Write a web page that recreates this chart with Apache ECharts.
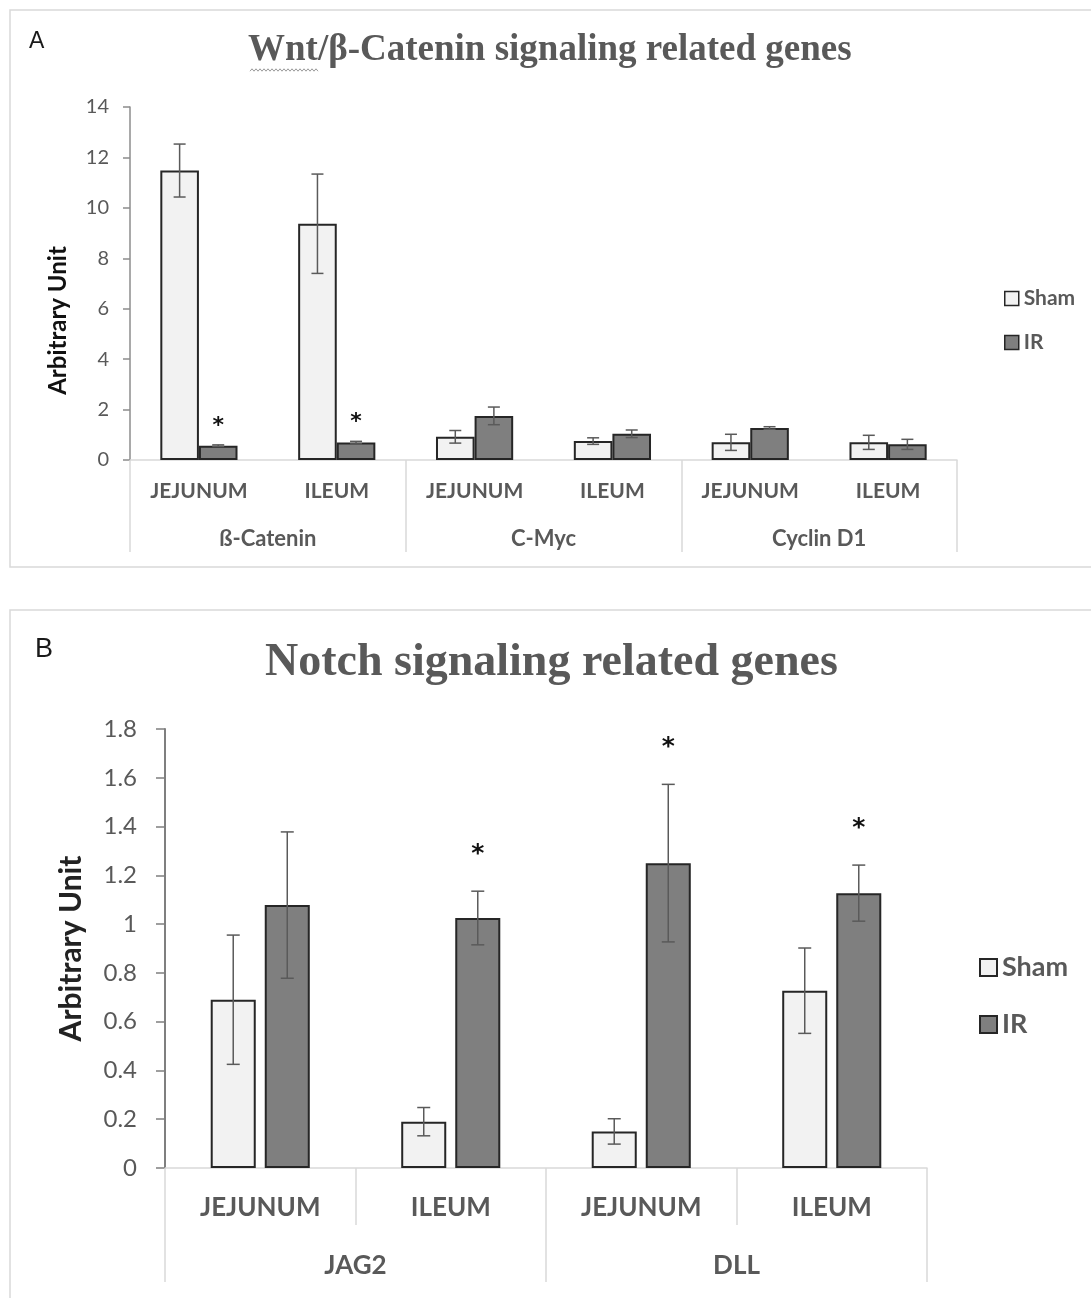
<!DOCTYPE html>
<html><head><meta charset="utf-8">
<script src="https://cdn.jsdelivr.net/npm/echarts@6/dist/echarts.min.js"></script>
<style>html,body{margin:0;padding:0;background:#fff}#c{width:1091px;height:1298px}</style>
</head><body><div id="c"></div>
<script>
// ---------- Panel A data ----------
const subA = ['JEJUNUM', 'ILEUM', 'JEJUNUM', 'ILEUM', 'JEJUNUM', 'ILEUM'];
const groupsA = ['ß-Catenin', 'C-Myc', 'Cyclin D1'];
const shamA = [11.48, 9.37, 0.92, 0.75, 0.70, 0.70];
const shamErrA = [1.05, 1.97, 0.25, 0.13, 0.32, 0.28];
const irA = [0.57, 0.69, 1.75, 1.04, 1.27, 0.62];
const irErrA = [0.03, 0.05, 0.35, 0.15, 0.05, 0.20];
const sigA = [1, 1, 0, 0, 0, 0];
// ---------- Panel B data ----------
const subB = ['JEJUNUM', 'ILEUM', 'JEJUNUM', 'ILEUM'];
const groupsB = ['JAG2', 'DLL'];
const shamB = [0.69, 0.19, 0.15, 0.727];
const shamErrB = [0.265, 0.058, 0.052, 0.175];
const irB = [1.078, 1.025, 1.25, 1.127];
const irErrB = [0.30, 0.11, 0.323, 0.115];
const sigB = [0, 1, 1, 1];
const seriesNames = ['Sham', 'IR'];
const titleA = 'Wnt/β-Catenin signaling related genes';
const titleB = 'Notch signaling related genes';
const yTitle = 'Arbitrary Unit';

const SANS = 'Lato, "Open Sans", sans-serif';
const GRAY = '#595959';
const LIGHT = '#d9d9d9';

function errRender(side, catGap, gap, capW, starGap, starSize) {
  return function (params, api) {
    const i = api.value(0), v = api.value(1), e = api.value(2), s = api.value(3);
    const band = api.size([1, 0])[0];
    const w = band * (1 - catGap) / (2 + gap);
    const off = side * w * (1 + gap) / 2;
    const top = api.coord([i, v + e]);
    const bot = api.coord([i, v - e]);
    const x = top[0] + off;
    const st = { stroke: '#5a5a5a', lineWidth: 1.5 };
    const children = [
      { type: 'line', shape: { x1: x, y1: top[1], x2: x, y2: bot[1] }, style: st },
      { type: 'line', shape: { x1: x - capW / 2, y1: top[1], x2: x + capW / 2, y2: top[1] }, style: st },
      { type: 'line', shape: { x1: x - capW / 2, y1: bot[1], x2: x + capW / 2, y2: bot[1] }, style: st }
    ];
    if (s) {
      children.push({ type: 'text', style: { text: '*', x: x, y: top[1] - starGap, align: 'center',
        verticalAlign: 'middle', fontSize: starSize, fontWeight: 'bold',
        fontFamily: '"DejaVu Sans", sans-serif', fill: '#111' } });
    }
    return { type: 'group', children: children };
  };
}
function errData(vals, errs, sig) {
  return vals.map((v, i) => [i, v, errs[i], sig ? sig[i] : 0]);
}

const barStyle = [
  { color: '#f2f2f2', borderColor: '#262626', borderWidth: 2 },
  { color: '#7f7f7f', borderColor: '#262626', borderWidth: 2 }
];

// wavy underline under "Wnt"
const wave = [];
for (let x = 250; x <= 318; x += 2) wave.push([x, 70 + ((x / 2) % 2 === 0 ? -1.2 : 1.2)]);

const option = {
  backgroundColor: '#fff',
  animation: false,
  title: [
    { text: titleA, left: 248, top: 32, padding: 0,
      textStyle: { fontFamily: '"Liberation Serif", serif', fontWeight: 'bold', fontSize: 37, color: GRAY } },
    { text: titleB, left: 265, top: 640, padding: 0,
      textStyle: { fontFamily: '"Liberation Serif", serif', fontWeight: 'bold', fontSize: 46, color: GRAY } },
    { text: 'A', left: 29, top: 30, padding: 0,
      textStyle: { fontFamily: '"Liberation Sans", sans-serif', fontWeight: 'normal', fontSize: 23, color: '#1a1a1a' } },
    { text: 'B', left: 35, top: 636, padding: 0,
      textStyle: { fontFamily: '"Liberation Sans", sans-serif', fontWeight: 'normal', fontSize: 27, color: '#1a1a1a' } }
  ],
  legend: [
    { data: seriesNames, orient: 'vertical', left: 1004, top: 288, itemWidth: 14, itemHeight: 14, itemGap: 23,
      icon: 'rect', padding: 0, itemStyle: { borderColor: '#262626', borderWidth: 1.5 },
      textStyle: { fontFamily: SANS, fontWeight: 'bold', fontSize: 21, color: GRAY } },
    { data: seriesNames, orient: 'vertical', left: 979, top: 954, itemWidth: 17, itemHeight: 17, itemGap: 30,
      icon: 'rect', padding: 0, itemStyle: { borderColor: '#262626', borderWidth: 2 },
      textStyle: { fontFamily: SANS, fontWeight: 'bold', fontSize: 27, color: GRAY } }
  ],
  grid: [
    { left: 130, top: 107, width: 827, height: 353 },
    { left: 165, top: 729, width: 762, height: 439 }
  ],
  xAxis: [
    { gridIndex: 0, type: 'category', data: subA, position: 'bottom',
      axisLine: { show: true, lineStyle: { color: LIGHT, width: 1.5 } },
      axisTick: { show: false },
      axisLabel: { interval: 0, margin: 21, fontFamily: SANS, fontWeight: 'bold', fontSize: 21, color: GRAY } },
    { gridIndex: 0, type: 'category', data: groupsA, position: 'bottom',
      axisLine: { show: false },
      axisTick: { show: true, interval: 0, length: 92, lineStyle: { color: LIGHT, width: 1.5 } },
      axisLabel: { interval: 0, margin: 68, fontFamily: SANS, fontWeight: 'bold', fontSize: 22, color: GRAY } },
    { gridIndex: 1, type: 'category', data: subB, position: 'bottom',
      axisLine: { show: true, lineStyle: { color: LIGHT, width: 1.5 } },
      axisTick: { show: true, interval: 0, length: 57, lineStyle: { color: LIGHT, width: 1.5 } },
      axisLabel: { interval: 0, margin: 27, fontFamily: SANS, fontWeight: 'bold', fontSize: 26, color: GRAY } },
    { gridIndex: 1, type: 'category', data: groupsB, position: 'bottom',
      axisLine: { show: false },
      axisTick: { show: true, interval: 0, length: 114, lineStyle: { color: LIGHT, width: 1.5 } },
      axisLabel: { interval: 0, margin: 85, fontFamily: SANS, fontWeight: 'bold', fontSize: 26, color: GRAY } }
  ],
  yAxis: [
    { gridIndex: 0, type: 'value', min: 0, max: 14, interval: 2,
      axisLine: { show: true, lineStyle: { color: '#8c8c8c', width: 1.5 } },
      axisTick: { show: true, length: 7, lineStyle: { color: '#8c8c8c', width: 1.5 } },
      splitLine: { show: false },
      axisLabel: { margin: 21, fontFamily: SANS, fontSize: 20, color: GRAY },
      name: yTitle, nameLocation: 'middle', nameRotate: 90, nameGap: 60,
      nameTextStyle: { fontFamily: SANS, fontWeight: 'bold', fontSize: 24, color: '#111', padding: [0, 74, 0, 0] } },
    { gridIndex: 1, type: 'value', min: 0, max: 1.8, interval: 0.2,
      axisLine: { show: true, lineStyle: { color: '#7f7f7f', width: 2 } },
      axisTick: { show: true, length: 9, lineStyle: { color: '#7f7f7f', width: 1.5 } },
      splitLine: { show: false },
      axisLabel: { margin: 28, fontFamily: SANS, fontSize: 24, color: GRAY },
      name: yTitle, nameLocation: 'middle', nameRotate: 90, nameGap: 79,
      nameTextStyle: { fontFamily: SANS, fontWeight: 'bold', fontSize: 30, color: '#222' } }
  ],
  series: [
    { name: 'Sham', type: 'bar', xAxisIndex: 0, yAxisIndex: 0, data: shamA, itemStyle: barStyle[0],
      barGap: '0%', barCategoryGap: '44%' },
    { name: 'IR', type: 'bar', xAxisIndex: 0, yAxisIndex: 0, data: irA, itemStyle: barStyle[1],
      barGap: '0%', barCategoryGap: '44%' },
    { name: 'errShamA', type: 'custom', xAxisIndex: 0, yAxisIndex: 0, z: 5,
      renderItem: errRender(-1, 0.44, 0, 12, 19, 22), data: errData(shamA, shamErrA, null) },
    { name: 'errIRA', type: 'custom', xAxisIndex: 0, yAxisIndex: 0, z: 5,
      renderItem: errRender(1, 0.44, 0, 12, 19, 22), data: errData(irA, irErrA, sigA) },
    { name: 'Sham', type: 'bar', xAxisIndex: 2, yAxisIndex: 1, data: shamB, itemStyle: barStyle[0],
      barGap: '20%', barCategoryGap: '48%' },
    { name: 'IR', type: 'bar', xAxisIndex: 2, yAxisIndex: 1, data: irB, itemStyle: barStyle[1],
      barGap: '20%', barCategoryGap: '48%' },
    { name: 'errShamB', type: 'custom', xAxisIndex: 2, yAxisIndex: 1, z: 5,
      renderItem: errRender(-1, 0.48, 0.2, 13, 37, 25), data: errData(shamB, shamErrB, null) },
    { name: 'errIRB', type: 'custom', xAxisIndex: 2, yAxisIndex: 1, z: 5,
      renderItem: errRender(1, 0.48, 0.2, 13, 37, 25), data: errData(irB, irErrB, sigB) }
  ],
  graphic: [
    { type: 'rect', shape: { x: 10, y: 10, width: 1100, height: 557 }, style: { fill: 'none', stroke: LIGHT, lineWidth: 1.5 }, silent: true },
    { type: 'rect', shape: { x: 10, y: 610, width: 1100, height: 720 }, style: { fill: 'none', stroke: LIGHT, lineWidth: 1.5 }, silent: true },
    { type: 'polyline', shape: { points: wave }, style: { fill: 'none', stroke: '#9a9a9a', lineWidth: 1 }, silent: true }
  ]
};
const chart = echarts.init(document.getElementById('c'), null, { renderer: 'canvas' });
chart.setOption(option);
</script></body></html>
